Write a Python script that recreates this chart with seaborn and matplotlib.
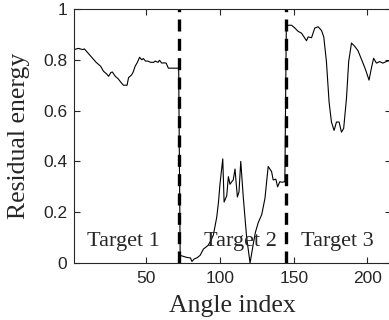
import matplotlib
matplotlib.use("Agg")
import matplotlib.pyplot as plt
import seaborn as sns
import pandas as pd
from matplotlib.ticker import FormatStrFormatter

angle_index = [1, 4, 7, 8, 10, 13, 16, 19, 21, 23, 24.5, 26, 27, 29, 31, 33, 34.5, 37, 38, 40,
               41, 42.5, 44, 45.5, 47, 48, 49.5, 51, 53, 55, 56, 58, 59, 60.5, 62, 63.5, 65, 72,
               73, 77.5, 80, 81, 82.5, 84.3, 86.5, 88.8, 91, 92, 94, 95.5, 97.8, 99, 100, 101.9,
               102.8, 104.6, 105.7, 106.8, 108, 109, 110.2, 111.8, 112.9, 114.1, 115.8, 118.1,
               120.4, 122.6, 124, 126, 128.3, 130.5, 132.7, 135, 136.1, 137.9, 139.1, 140.6, 142,
               144, 145, 148.6, 150.8, 153, 155.3, 157, 158.7, 159.8, 162.1, 164.3, 166.6, 168.9,
               170.4, 172.2, 174, 175.6, 177.4, 179, 180.8, 182.4, 183.9, 185.8, 187.3, 189.2,
               191.4, 193.6, 196.6, 198.8, 201.1, 202.7, 204.2, 206.1, 208.3, 210.5, 213.9, 216]
residual = [0.84, 0.845, 0.84, 0.843, 0.83, 0.81, 0.79, 0.775, 0.755, 0.745, 0.735, 0.75, 0.752,
            0.735, 0.725, 0.71, 0.70, 0.70, 0.73, 0.74, 0.75, 0.775, 0.79, 0.81, 0.80, 0.805,
            0.795, 0.795, 0.79, 0.79, 0.795, 0.79, 0.798, 0.787, 0.788, 0.787, 0.767, 0.767,
            0.03, 0.022, 0.02, 0.006, 0.016, 0.02, 0.03, 0.055, 0.065, 0.07, 0.09, 0.11, 0.18,
            0.24, 0.31, 0.41, 0.24, 0.265, 0.34, 0.31, 0.32, 0.327, 0.37, 0.26, 0.28, 0.40,
            0.26, 0.10, 0.0, 0.075, 0.12, 0.16, 0.19, 0.254, 0.38, 0.36, 0.327, 0.33, 0.30,
            0.32, 0.318, 0.32, 0.936, 0.936, 0.925, 0.912, 0.905, 0.89, 0.875, 0.89, 0.887,
            0.925, 0.93, 0.915, 0.89, 0.793, 0.634, 0.555, 0.522, 0.555, 0.555, 0.515, 0.53,
            0.648, 0.793, 0.866, 0.853, 0.836, 0.793, 0.76, 0.72, 0.767, 0.806, 0.787, 0.793,
            0.787, 0.796, 0.793]

boundaries = [72.5, 144.5]
target_labels = ["Target 1", "Target 2", "Target 3"]
target_label_x = [34.4, 113.6, 179.7]
target_label_y = [0.067, 0.067, 0.067]
xticks = [50, 100, 150, 200]
yticks = [0, 0.2, 0.4, 0.6, 0.8, 1]

sns.set_style("ticks")
plt.rcParams["font.family"] = ["Liberation Sans", "DejaVu Sans"]

fig = plt.figure(figsize=(3.89, 3.20), dpi=100)
ax = fig.add_axes([74 / 389, 1 - 263 / 320, (391 - 74) / 389, (263 - 9) / 320])

df = pd.DataFrame({"Angle index": angle_index, "Residual energy": residual})
sns.lineplot(data=df, x="Angle index", y="Residual energy", color="black", lw=0.8, ax=ax)

for b in boundaries:
    ax.axvline(b, color="black", lw=2.4, linestyle=(0, (3.6, 2.2)))

serif = ["Liberation Serif", "DejaVu Serif"]
for lab, tx, ty in zip(target_labels, target_label_x, target_label_y):
    ax.text(tx, ty, lab, ha="center", va="baseline", fontsize=16, family=serif)

ax.set_xlim(1, 216)
ax.set_ylim(0, 1)
ax.set_xticks(xticks)
ax.set_yticks(yticks)
ax.yaxis.set_major_formatter(FormatStrFormatter("%g"))
ax.tick_params(direction="in", top=True, right=True, labelsize=12.5, length=4, width=0.8)
ax.tick_params(axis="x", pad=6)
ax.tick_params(axis="y", pad=5)
for s in ax.spines.values():
    s.set_linewidth(0.8)
    s.set_visible(True)
ax.set_xlabel("Angle index", fontsize=18.5, family=serif, labelpad=6)
ax.set_ylabel("Residual energy", fontsize=18.5, family=serif, labelpad=9)

fig.savefig("out.png", dpi=100)
